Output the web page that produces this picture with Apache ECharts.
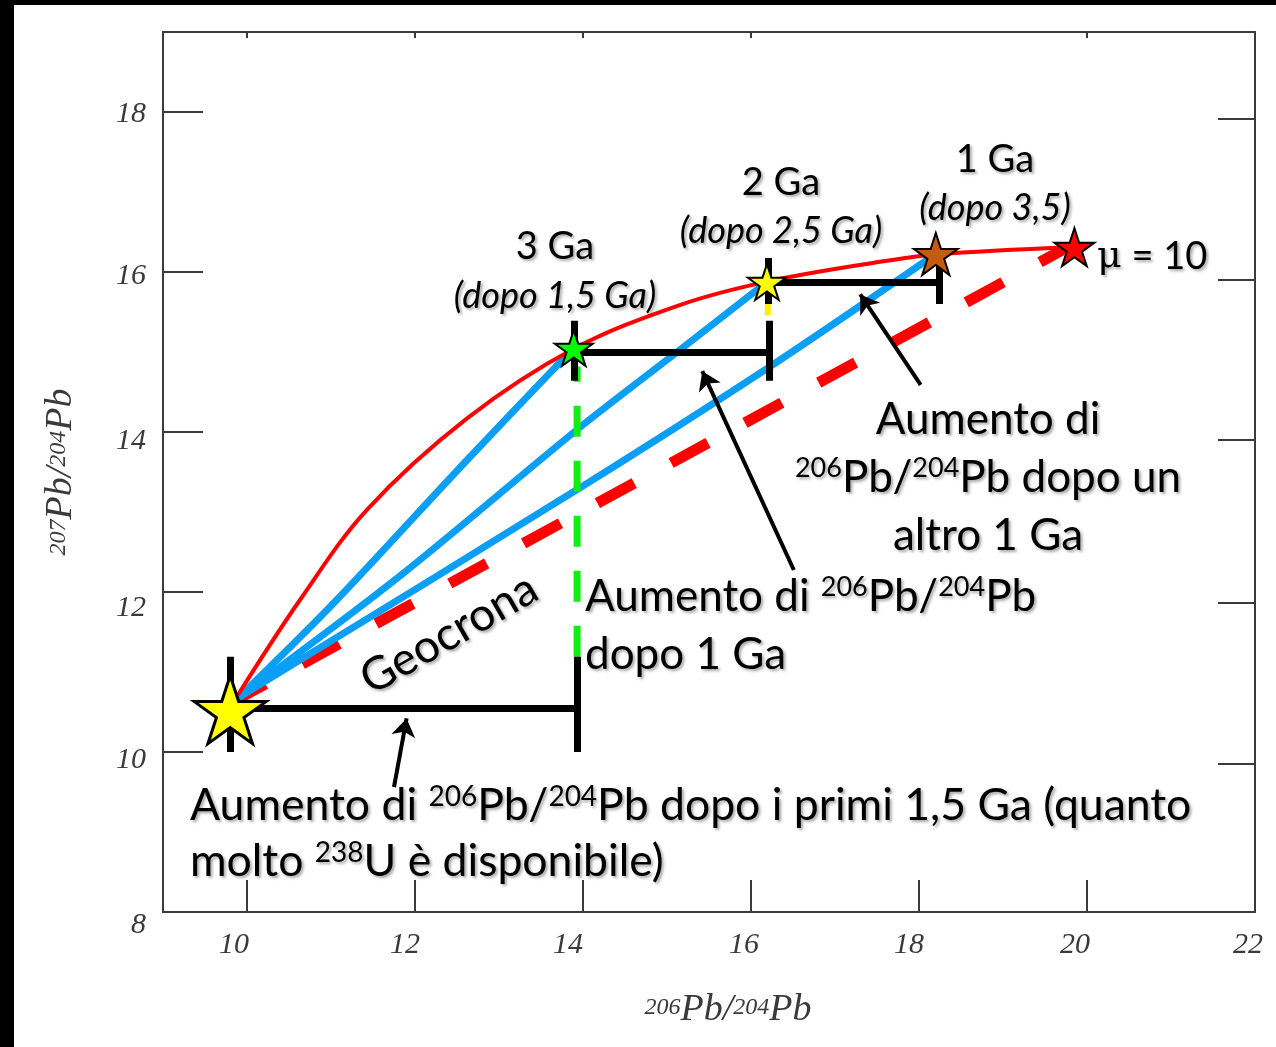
<!DOCTYPE html>
<html><head><meta charset="utf-8">
<script src="https://cdn.jsdelivr.net/npm/echarts@6/dist/echarts.min.js"></script>
<style>html,body{margin:0;padding:0;background:#fff}#c{width:1276px;height:1047px}</style>
</head><body><div id="c"></div><script>
// ---------------- DATA ----------------
const xLabelValues = [10, 12, 14, 16, 18, 20, 22];
const xTickValues = [10, 12, 14, 16, 18, 20];
const xTopTickValues = [10, 12, 14, 16, 20];
const yLabelValues = [8, 10, 12, 14, 16, 18];
const yRightTickValues = [9.85, 11.87, 13.9, 15.9, 17.91];

// Curva di evoluzione (mu = 10)
const redCurve = [[9.89,10.71],[10.63,11.90],[11.43,13.03],[12.62,14.17],[13.89,15.04],[15.16,15.59],[16.19,15.88],[17.43,16.11],[18.20,16.22],[19.83,16.31]];
// Isocrone
const blueToGreen = [[9.90,10.68],[11.03,11.86],[12.62,13.65],[13.89,15.05]];
const blueToYellow = [[9.90,10.68],[11.82,12.2],[13.93,14.03],[15.16,15.03],[16.19,15.875]];
const blueToBrown = [[9.90,10.68],[13.93,13.28],[16.2,14.8],[18.2,16.225]];
// Geocrona
const geochron = [[9.78,10.60],[19.75,16.30]];
// Verticali tratteggiate
const greenDrop = [[13.93,11.19],[13.93,14.82]];
const yellowDrop = [[16.2,15.6],[16.2,15.46]];
// Barre di aumento (segmenti)
const bars = [
  [[9.80,10.55],[13.93,10.55]], [[9.80,10.0],[9.80,11.19]], [[13.93,10.0],[13.93,11.19]],
  [[13.89,15.0],[16.22,15.0]], [[13.89,14.64],[13.89,15.39]], [[16.22,14.64],[16.22,15.39]],
  [[16.2,15.875],[18.24,15.875]], [[16.2,15.6],[16.2,16.175]], [[18.24,15.6],[18.24,16.14]]
];
// Frecce
const arrows = [
  [[11.75,9.56],[11.90,10.42]],
  [[16.51,12.275],[15.42,14.76]],
  [[18.02,14.59],[17.30,15.72]]
];
// Stelle
const starNames = ['4,5 Ga', '3 Ga', '2 Ga', '1 Ga', 'oggi'];
const starX = [9.80, 13.89, 16.19, 18.20, 19.85];
const starY = [10.53, 15.05, 15.875, 16.225, 16.31];

// ---------------- STYLE ----------------
const starColors = ['#ffff00', '#00ff00', '#ffff00', '#c55a11', '#ff0000'];
const starSizes = [[72, 68], [38, 36], [38, 36], [44, 42], [40, 38]];
const starBorders = [3, 2, 2, 2, 2];

function starPath() {
  let d = '';
  for (let i = 0; i < 10; i++) {
    const r = i % 2 ? 38.2 : 100;
    const a = (-90 + i * 36) * Math.PI / 180;
    d += (i ? 'L' : 'M') + (r * Math.cos(a)).toFixed(2) + ' ' + (r * Math.sin(a)).toFixed(2);
  }
  return 'path://' + d + 'Z';
}
const STAR = starPath();

const AX = '#3a3a3a';
const serif = 'Liberation Serif';
const sans = 'Lato';
const shadow = { textShadowColor: 'rgba(0,0,0,0.35)', textShadowBlur: 3, textShadowOffsetX: 2, textShadowOffsetY: 2 };

const xShift = { 10: 13, 12: 10, 14: 15, 16: 7, 18: 10, 20: 12, 22: 7 };
const yShift = { 8: 13, 10: 8, 12: 16, 14: 9, 16: 4, 18: 2 };
const xRich = {}, yRich = {};
xLabelValues.forEach(v => xRich['x' + v] = { padding: [0, 2 * xShift[v], 0, 0], fontFamily: serif, fontStyle: 'italic', fontSize: 30, color: AX });
yLabelValues.forEach(v => yRich['y' + v] = { padding: [2 * yShift[v], 0, 0, 0], fontFamily: serif, fontStyle: 'italic', fontSize: 30, color: AX });

const nameRich = {
  m: { fontFamily: serif, fontStyle: 'italic', fontSize: 38, color: AX, lineHeight: 40 },
  s: { fontFamily: serif, fontStyle: 'italic', fontSize: 24, color: AX, verticalAlign: 'top', lineHeight: 24, padding: [6, 0, 0, 0] }
};

const mainRich = (size, sup) => ({
  m: Object.assign({ fontFamily: sans, fontSize: size, fill: '#000', lineHeight: size + 6 }, shadow),
  i: Object.assign({ fontFamily: sans, fontStyle: 'italic', fontSize: size, fill: '#000', lineHeight: size + 6 }, shadow),
  g: Object.assign({ fontFamily: 'DejaVu Serif', fontSize: size, fill: '#000', lineHeight: size + 6 }, shadow),
  s: Object.assign({ fontFamily: sans, fontSize: sup, fill: '#000', verticalAlign: 'top', lineHeight: sup, padding: [2, 0, 0, 0] }, shadow)
});

function txt(x, y, text, size, align, rot) {
  return {
    type: 'text', x: x, y: y, rotation: rot || 0, z: 100,
    style: Object.assign({ text: text, rich: mainRich(size, Math.round(size * 0.62)), align: align || 'center', verticalAlign: 'middle', fill: '#000' }, shadow)
  };
}

const chart = echarts.init(document.getElementById('c'));
const option = {
  animation: false,
  backgroundColor: '#fff',
  grid: { left: 163, top: 32, right: 21, bottom: 135, containLabel: false },
  xAxis: [
    {
      type: 'value', min: 9, max: 22, position: 'bottom',
      axisLine: { show: true, onZero: false, lineStyle: { color: AX, width: 2 } },
      axisTick: { show: true, inside: true, length: 32, customValues: xTickValues, lineStyle: { color: AX, width: 2 } },
      axisLabel: { customValues: xLabelValues, margin: 18, formatter: v => '{x' + v + '|' + v + '}', rich: xRich },
      splitLine: { show: false },
      name: '{s|206}{m|Pb/}{s|204}{m|Pb}', nameLocation: 'middle', nameGap: 78,
      nameTextStyle: { rich: nameRich, padding: [0, 0, 0, 38] }
    },
    {
      type: 'value', min: 9, max: 22, position: 'top',
      axisLine: { show: true, onZero: false, lineStyle: { color: AX, width: 2 } },
      axisTick: { show: true, inside: true, length: 6, customValues: xTopTickValues, lineStyle: { color: AX, width: 2 } },
      axisLabel: { show: false }, splitLine: { show: false }
    }
  ],
  yAxis: [
    {
      type: 'value', min: 8, max: 19, interval: 2, position: 'left',
      axisLine: { show: true, onZero: false, lineStyle: { color: AX, width: 2 } },
      axisTick: { show: true, inside: true, length: 40, customValues: yLabelValues, lineStyle: { color: AX, width: 2 } },
      axisLabel: { margin: 17, customValues: yLabelValues, formatter: v => '{y' + v + '|' + v + '}', rich: yRich },
      splitLine: { show: false },
      name: '{s|207}{m|Pb/}{s|204}{m|Pb}', nameLocation: 'middle', nameGap: 82,
      nameTextStyle: { rich: nameRich, padding: [0, 0, 0, 0] }
    },
    {
      type: 'value', min: 8, max: 19, position: 'right',
      axisLine: { show: true, onZero: false, lineStyle: { color: AX, width: 2 } },
      axisTick: { show: true, inside: true, length: 37, customValues: yRightTickValues, lineStyle: { color: AX, width: 2 } },
      axisLabel: { show: false }, splitLine: { show: false }
    }
  ],
  series: [
    { type: 'line', name: 'Geocrona', data: geochron, showSymbol: false, z: 2,
      lineStyle: { color: '#ff0000', width: 11, type: [42, 42], cap: 'butt' } },
    { type: 'line', data: blueToGreen, smooth: 0.3, showSymbol: false, z: 3, lineStyle: { color: '#0a9ef5', width: 7 } },
    { type: 'line', data: blueToYellow, smooth: 0.3, showSymbol: false, z: 3, lineStyle: { color: '#0a9ef5', width: 7 } },
    { type: 'line', data: blueToBrown, smooth: 0.3, showSymbol: false, z: 3, lineStyle: { color: '#0a9ef5', width: 7 } },
    { type: 'line', name: 'mu = 10', data: redCurve, smooth: 0.35, showSymbol: false, z: 4, lineStyle: { color: '#ff0000', width: 4 } },
    { type: 'line', data: greenDrop, showSymbol: false, z: 5, lineStyle: { color: '#11ee11', width: 7, type: [31, 24], cap: 'butt' } },
    { type: 'line', data: yellowDrop, showSymbol: false, z: 5, lineStyle: { color: '#ffee00', width: 6, cap: 'butt' } },
    { type: 'lines', coordinateSystem: 'cartesian2d', z: 6, polyline: false,
      lineStyle: { color: '#000', width: 7, opacity: 1 }, data: bars.map(c => ({ coords: c })) },
    { type: 'lines', coordinateSystem: 'cartesian2d', z: 6, symbol: ['none', 'arrow'], symbolSize: 18,
      lineStyle: { color: '#000', width: 4, opacity: 1 }, data: arrows.map(c => ({ coords: c })) },
    { type: 'scatter', z: 10, symbol: STAR,
      data: starX.map((x, i) => ({ name: starNames[i], value: [x, starY[i]], symbolSize: starSizes[i],
        itemStyle: { color: starColors[i], borderColor: '#000', borderWidth: starBorders[i], opacity: 1 } })) }
  ],
  graphic: [
    { type: 'rect', shape: { x: 0, y: 0, width: 14, height: 1047 }, style: { fill: '#000' }, z: 200 },
    { type: 'rect', shape: { x: 0, y: 0, width: 1276, height: 5 }, style: { fill: '#000' }, z: 200 },
    txt(555, 247, '{m|3 Ga}', 38),
    txt(555, 296, '{i|(dopo 1,5 Ga)}', 36),
    txt(781, 183, '{m|2 Ga}', 38),
    txt(781, 231, '{i|(dopo 2,5 Ga)}', 36),
    txt(995, 160, '{m|1 Ga}', 38),
    txt(995, 208, '{i|(dopo 3,5)}', 36),
    txt(1097, 257, '{g|μ}{m| = 10}', 38, 'left'),
    txt(988, 420, '{m|Aumento di}', 44),
    txt(988, 478, '{s|206}{m|Pb/}{s|204}{m|Pb dopo un}', 44),
    txt(988, 536, '{m|altro 1 Ga}', 44),
    txt(585, 597, '{m|Aumento di }{s|206}{m|Pb/}{s|204}{m|Pb}', 44, 'left'),
    txt(585, 655, '{m|dopo 1 Ga}', 44, 'left'),
    txt(190, 806, '{m|Aumento di }{s|206}{m|Pb/}{s|204}{m|Pb dopo i primi 1,5 Ga (quanto}', 44.5, 'left'),
    txt(190, 862, '{m|molto }{s|238}{m|U è disponibile)}', 44.5, 'left'),
    txt(449, 634, '{m|Geocrona}', 46, 'center', 30 * Math.PI / 180)
  ]
};
chart.setOption(option);
</script></body></html>
